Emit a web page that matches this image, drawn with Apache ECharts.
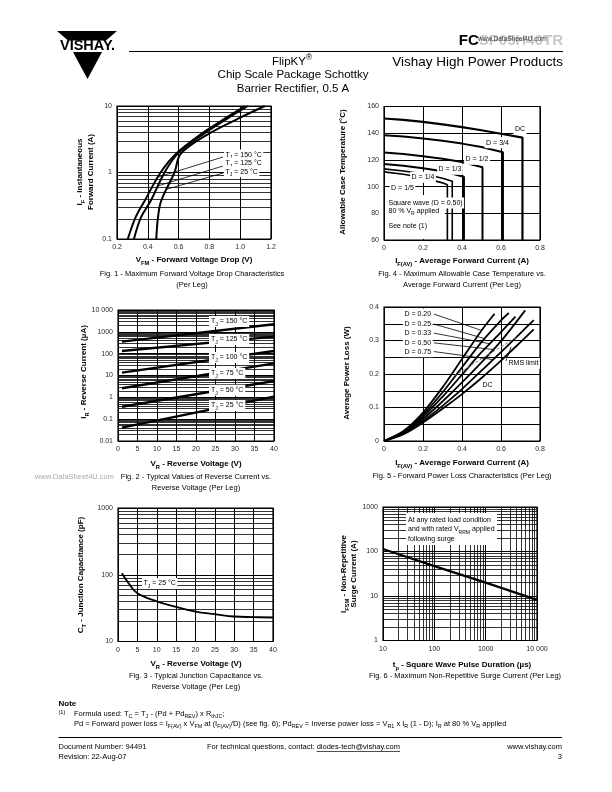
<!DOCTYPE html>
<html><head><meta charset="utf-8">
<script src="https://cdn.jsdelivr.net/npm/echarts@6/dist/echarts.min.js"></script>
<style>html,body{margin:0;padding:0;background:#fff}#c{width:612px;height:792px}</style>
</head><body><div id="c"></div>
<script>
const FF = '"Liberation Sans", Arial, Helvetica, sans-serif';

// ---------------- DATA ----------------
// Fig 1 - forward voltage drop
const fig1Current = [0.1, 0.21, 0.376, 1, 1.92, 3.85, 6.9, 10];
const fig1Vf150 = [0.27, 0.32, 0.38, 0.483, 0.584, 0.75, 0.92, 1.03];
const fig1Vf125 = [0.31, 0.355, 0.419, 0.509, 0.595, 0.765, 0.935, 1.05];
const fig1Vf25  = [0.455, 0.466, 0.487, 0.573, 0.615, 0.798, 1.013, 1.16];
const fig1Labels = ['T_{J} = 150 °C', 'T_{J} = 125 °C', 'T_{J} = 25 °C'];
const fig1LeaderFrom = [[0.888, 1.71], [0.888, 1.25], [0.888, 0.98]];
const fig1LeaderTo   = [[0.465, 0.85], [0.467, 0.63], [0.522, 0.56]];

// Fig 4 - allowable case temperature
const fig4I_dc = [0, 0.1, 0.2, 0.3, 0.4, 0.5, 0.6, 0.71, 0.71];
const fig4T_dc = [151, 150, 148.5, 146.6, 144.5, 142.2, 139.6, 136.7, 60];
const fig4I_34 = [0, 0.1, 0.2, 0.3, 0.4, 0.5, 0.61, 0.61];
const fig4T_34 = [138.5, 137.5, 136.1, 134.4, 132.2, 129.7, 125.7, 60];
const fig4I_12 = [0, 0.1, 0.2, 0.3, 0.4, 0.505, 0.505];
const fig4T_12 = [125.6, 124.4, 122.8, 120.9, 118.4, 114.5, 60];
const fig4I_13 = [0, 0.1, 0.2, 0.3, 0.41, 0.41];
const fig4T_13 = [117, 115.7, 113.8, 111.5, 107.4, 60];
const fig4I_14 = [0, 0.1, 0.2, 0.3, 0.35, 0.35];
const fig4T_14 = [113.3, 111.7, 109.6, 106.3, 104, 60];
const fig4I_15 = [0, 0.1, 0.2, 0.3, 0.325, 0.325];
const fig4T_15 = [111, 109.3, 106.6, 102.8, 101.3, 60];
const fig4Labels = ['DC', 'D = 3/4', 'D = 1/2', 'D = 1/3', 'D = 1/4', 'D = 1/5'];

// Fig 2 - reverse current
const fig2Vr = [1, 40];
const fig2Ir150 = [355, 2240];
const fig2Ir125 = [132, 600];
const fig2Ir100 = [13.5, 132];
const fig2Ir75  = [2.6, 36];
const fig2Ir50  = [0.37, 5.6];
const fig2Ir25  = [0.041, 1.07];
const fig2Labels = ['T_{J} = 150 °C', 'T_{J} = 125 °C', 'T_{J} = 100 °C', 'T_{J} = 75 °C', 'T_{J} = 50 °C', 'T_{J} = 25 °C'];
const fig2YTicks = {'-2': '0.01', '-1': '0.1', '0': '1', '1': '10', '2': '100', '3': '1000', '4': '10 000'};

// Fig 5 - forward power loss
const fig5I_020 = [0, 0.1, 0.2, 0.3, 0.4, 0.5, 0.567];
const fig5P_020 = [0, 0.03, 0.085, 0.16, 0.245, 0.33, 0.38];
const fig5I_025 = [0, 0.1, 0.2, 0.3, 0.4, 0.5, 0.6, 0.64];
const fig5P_025 = [0, 0.028, 0.078, 0.145, 0.22, 0.295, 0.36, 0.382];
const fig5I_033 = [0, 0.1, 0.2, 0.3, 0.4, 0.5, 0.6, 0.674];
const fig5P_033 = [0, 0.026, 0.072, 0.132, 0.198, 0.265, 0.325, 0.371];
const fig5I_050 = [0, 0.1, 0.2, 0.3, 0.4, 0.5, 0.6, 0.724];
const fig5P_050 = [0, 0.024, 0.066, 0.118, 0.175, 0.235, 0.298, 0.39];
const fig5I_075 = [0, 0.1, 0.2, 0.3, 0.4, 0.5, 0.6, 0.7, 0.768];
const fig5P_075 = [0, 0.022, 0.06, 0.105, 0.155, 0.21, 0.265, 0.322, 0.361];
const fig5I_dc  = [0, 0.1, 0.2, 0.3, 0.4, 0.5, 0.6, 0.7, 0.768];
const fig5P_dc  = [0, 0.02, 0.055, 0.096, 0.14, 0.188, 0.24, 0.295, 0.333];
const fig5RmsI = [0.36, 0.68];
const fig5RmsP = [0.195, 0.31];
const fig5Labels = ['D = 0.20', 'D = 0.25', 'D = 0.33', 'D = 0.50', 'D = 0.75'];
const fig5LeaderFrom = [[0.256, 0.379], [0.256, 0.349], [0.256, 0.322], [0.256, 0.293], [0.256, 0.267]];
const fig5LeaderTo   = [[0.50, 0.33], [0.52, 0.305], [0.545, 0.29], [0.56, 0.273], [0.56, 0.243]];

// Fig 3 - junction capacitance
const fig3Vr = [1, 3, 5, 10, 15, 20, 25, 30, 35, 40];
const fig3Ct = [105, 71, 53, 40, 33, 28, 25.7, 23.7, 23.2, 22.9];

// Fig 6 - surge current
const fig6Tp = [10, 100, 1000, 10000];
const fig6Ifsm = [114, 47, 20, 8.2];
const fig6XTicks = {'1': '10', '2': '100', '3': '1000', '4': '10 000'};
const fig6YTicks = {'0': '1', '1': '10', '2': '100', '3': '1000'};

// ---------------- HELPERS ----------------
function pairs(xs, ys) { return xs.map((x, i) => [x, ys[i]]); }
function logMinors(lo, hi) {
  const out = [];
  for (let e = lo; e < hi; e++) for (let k = 2; k <= 9; k++) out.push(+(k * Math.pow(10, e)).toPrecision(3));
  return out;
}
function richText(markup, size, bold, color) {
  const w = bold ? 'bold' : 'normal';
  const base = {fontSize: size, fontWeight: w, fontFamily: FF, fill: color || '#000'};
  const rich = {
    n: Object.assign({}, base, {lineHeight: Math.round(size * 1.5), verticalAlign: 'middle'}),
    s: Object.assign({}, base, {fontSize: size * 0.72, lineHeight: size * 0.8, verticalAlign: 'bottom'}),
    p: Object.assign({}, base, {fontSize: size * 0.72, lineHeight: size * 0.8, verticalAlign: 'top'}),
    g: Object.assign({}, base, {fill: '#c8c8c8', lineHeight: Math.round(size * 1.5), verticalAlign: 'middle'})
  };
  let text = '', last = 0, m;
  const re = /([_^~])\{([^}]*)\}/g;
  while ((m = re.exec(markup))) {
    if (m.index > last) text += '{n|' + markup.slice(last, m.index) + '}';
    text += '{' + (m[1] === '_' ? 's' : m[1] === '^' ? 'p' : 'g') + '|' + m[2] + '}';
    last = re.lastIndex;
  }
  if (last < markup.length) text += '{n|' + markup.slice(last) + '}';
  return {text, rich};
}
function T(x, y, markup, o) {
  o = o || {};
  const rt = richText(markup, o.size || 7, !!o.bold, o.color);
  const style = {text: rt.text, rich: rt.rich, align: o.align || 'left', verticalAlign: 'middle'};
  if (o.bg) { style.backgroundColor = '#fff'; style.padding = o.pad || [0, 1.5]; }
  return {type: 'text', x, y, rotation: o.rot || 0, z: o.z || 10, silent: true, style};
}
const BLACK = '#000';
function grid(left, top, width, height) {
  return {left, top, width, height, show: true, borderColor: BLACK, borderWidth: 1.2, backgroundColor: 'rgba(0,0,0,0)', containLabel: false};
}
const lbl = {fontSize: 7, color: '#2a2a2a', fontFamily: FF};
function axis(gi, type, o) {
  return Object.assign({
    gridIndex: gi, type,
    axisLine: {show: false}, axisTick: {show: false},
    splitLine: {show: true, lineStyle: {color: BLACK, width: 1}},
    minorSplitLine: {show: false}
  }, o, {axisLabel: Object.assign({}, lbl, {margin: 5, showMinLabel: true, showMaxLabel: true, hideOverlap: false}, (o && o.axisLabel) || {})});
}
function curve(gi, xs, ys, w, extra) {
  return Object.assign({
    type: 'line', xAxisIndex: gi, yAxisIndex: gi, data: pairs(xs, ys),
    symbol: 'none', showSymbol: false, silent: true, animation: false, z: 3,
    lineStyle: {color: BLACK, width: w || 2}, emphasis: {disabled: true}
  }, extra || {});
}
function gridLines(gi, anchor, xs, ys) {
  return {
    type: 'line', xAxisIndex: gi, yAxisIndex: gi, data: [anchor], symbol: 'none', showSymbol: false,
    lineStyle: {opacity: 0}, silent: true, animation: false, z: 1,
    markLine: {
      z: 1, silent: true, animation: false, symbol: ['none', 'none'], label: {show: false},
      emphasis: {disabled: true},
      lineStyle: {color: BLACK, width: 0.8, type: 'solid'},
      data: xs.map(v => ({xAxis: v})).concat(ys.map(v => ({yAxis: v})))
    }
  };
}
function leader(gi, from, to, dashed) {
  return curve(gi, [from[0], to[0]], [from[1], to[1]], 0.8, {z: 4, lineStyle: {color: dashed ? '#777' : BLACK, width: dashed ? 1 : 0.8, type: dashed ? [3, 2] : 'solid'}});
}
const logFmt = map => (v => { const p = Math.round(Math.log10(v)); return map[String(p)] !== undefined ? map[String(p)] : ''; });
const decFmt = v => v === 0 ? '0' : String(+v.toFixed(1));

// ---------------- GRIDS ----------------
// 0: Fig1, 1: Fig4, 2: Fig2, 3: Fig5, 4: Fig3, 5: Fig6
const grids = [
  grid(117, 106, 154, 133),
  grid(384, 106.5, 156, 133.5),
  grid(118, 310, 156, 131),
  grid(384, 307, 156, 134),
  grid(118, 508, 155, 133.5),
  grid(383, 507, 154, 133.5)
];
const xAxes = [
  axis(0, 'value', {min: 0.2, max: 1.2, interval: 0.2, axisLabel: {formatter: v => v.toFixed(1)}}),
  axis(1, 'value', {min: 0, max: 0.8, interval: 0.2, axisLabel: {formatter: decFmt}}),
  axis(2, 'value', {min: 0, max: 40, interval: 5}),
  axis(3, 'value', {min: 0, max: 0.8, interval: 0.2, axisLabel: {formatter: decFmt}}),
  axis(4, 'value', {min: 0, max: 40, interval: 5}),
  axis(5, 'log', {min: 10, max: 10000, logBase: 10, axisLabel: {formatter: logFmt(fig6XTicks)}})
];
const yAxes = [
  axis(0, 'log', {min: 0.1, max: 10, logBase: 10, axisLabel: {formatter: logFmt({'-1': '0.1', '0': '1', '1': '10'})}}),
  axis(1, 'value', {min: 60, max: 160, interval: 20}),
  axis(2, 'log', {min: 0.01, max: 10000, logBase: 10, axisLabel: {formatter: logFmt(fig2YTicks)}}),
  axis(3, 'value', {min: 0, max: 0.4, interval: 0.05, axisLabel: {formatter: v => { const k = Math.round(v * 100); return k % 10 === 0 ? (k === 0 ? '0' : String(k / 100)) : ''; }}}),
  axis(4, 'log', {min: 10, max: 1000, logBase: 10, axisLabel: {formatter: logFmt({'1': '10', '2': '100', '3': '1000'})}}),
  axis(5, 'log', {min: 1, max: 1000, logBase: 10, axisLabel: {formatter: logFmt(fig6YTicks)}})
];

// ---------------- SERIES ----------------
const series = [
  gridLines(0, [0.5, 1], [], logMinors(-1, 1)),
  curve(0, fig1Vf150, fig1Current, 2, {smooth: 0.35}),
  curve(0, fig1Vf125, fig1Current, 2, {smooth: 0.35}),
  curve(0, fig1Vf25, fig1Current, 2, {smooth: 0.35}),
  ...fig1LeaderFrom.map((f, i) => leader(0, f, fig1LeaderTo[i])),

  curve(1, fig4I_dc, fig4T_dc, 2.2),
  curve(1, fig4I_34, fig4T_34, 2),
  curve(1, fig4I_12, fig4T_12, 2),
  curve(1, fig4I_13, fig4T_13, 2),
  curve(1, fig4I_14, fig4T_14, 1.6),
  curve(1, fig4I_15, fig4T_15, 1.6),

  gridLines(2, [20, 1], [], logMinors(-2, 4)),
  curve(2, fig2Vr, fig2Ir150, 2.4),
  curve(2, fig2Vr, fig2Ir125, 2.4),
  curve(2, fig2Vr, fig2Ir100, 2.4),
  curve(2, fig2Vr, fig2Ir75, 2.4),
  curve(2, fig2Vr, fig2Ir50, 2.4),
  curve(2, fig2Vr, fig2Ir25, 2.4),

  curve(3, fig5I_020, fig5P_020, 1.8, {smooth: 0.3}),
  curve(3, fig5I_025, fig5P_025, 1.8, {smooth: 0.3}),
  curve(3, fig5I_033, fig5P_033, 1.8, {smooth: 0.3}),
  curve(3, fig5I_050, fig5P_050, 1.8, {smooth: 0.3}),
  curve(3, fig5I_075, fig5P_075, 1.8, {smooth: 0.3}),
  curve(3, fig5I_dc, fig5P_dc, 1.8, {smooth: 0.3}),
  leader(3, [fig5RmsI[0], fig5RmsP[0]], [fig5RmsI[1], fig5RmsP[1]], true),
  ...fig5LeaderFrom.map((f, i) => leader(3, f, fig5LeaderTo[i])),
  leader(3, [0.626, 0.239], [0.652, 0.281]),

  gridLines(4, [20, 20], [], logMinors(1, 3)),
  curve(4, fig3Vr, fig3Ct, 1.8, {smooth: 0.4}),

  gridLines(5, [20, 2], logMinors(1, 4), logMinors(0, 3)),
  curve(5, fig6Tp, fig6Ifsm, 2.2)
];

// ---------------- TEXT / GRAPHICS ----------------
const g = [];
// header
g.push({type: 'polygon', shape: {points: [[57, 31], [117, 31], [106, 40.5], [68, 40.5]]}, style: {fill: BLACK}, silent: true});
g.push({type: 'polygon', shape: {points: [[73, 52], [102, 52], [87.5, 79]]}, style: {fill: BLACK}, silent: true});
g.push(T(87.5, 46.3, 'VISHAY.', {size: 14.5, bold: true, align: 'center'}));
g.push(T(563, 41, 'FC~{SP05H40TR}', {size: 15, bold: true, align: 'right'}));
g.push(T(478, 39, 'www.DataSheet4U.com', {size: 6.5, bold: false, color: '#333'}));
g.push({type: 'line', shape: {x1: 129, y1: 51.5, x2: 563, y2: 51.5}, style: {stroke: BLACK, lineWidth: 1}, silent: true});
g.push(T(292, 62, 'FlipKY^{®}', {size: 11.5, align: 'center'}));
g.push(T(563, 62.5, 'Vishay High Power Products', {size: 13.5, align: 'right'}));
g.push(T(293, 75, 'Chip Scale Package Schottky', {size: 11.5, align: 'center'}));
g.push(T(293, 88.5, 'Barrier Rectifier, 0.5 A', {size: 11.5, align: 'center'}));

// Fig 1 text
g.push(T(80, 172, 'I_{F} - Instantaneous', {size: 8, bold: true, align: 'center', rot: Math.PI / 2}));
g.push(T(91, 172, 'Forward Current (A)', {size: 8, bold: true, align: 'center', rot: Math.PI / 2}));
g.push(T(194, 260, 'V_{FM} - Forward Voltage Drop (V)', {size: 8, bold: true, align: 'center'}));
g.push(T(192, 274, 'Fig. 1 - Maximum Forward Voltage Drop Characteristics', {size: 7.5, align: 'center'}));
g.push(T(192, 285, '(Per Leg)', {size: 7.5, align: 'center'}));
[155, 163.3, 171.7].forEach((y, i) => g.push(T(224, y, fig1Labels[i], {size: 7, bg: true})));

// Fig 4 text
g.push(T(343, 172, 'Allowable Case Temperature (°C)', {size: 8, bold: true, align: 'center', rot: Math.PI / 2}));
g.push(T(462, 261, 'I_{F(AV)} - Average Forward Current (A)', {size: 8, bold: true, align: 'center'}));
g.push(T(462, 274, 'Fig. 4 - Maximum Allowable Case Temperature vs.', {size: 7.5, align: 'center'}));
g.push(T(462, 285, 'Average Forward Current (Per Leg)', {size: 7.5, align: 'center'}));
[[520, 129.5], [497.5, 142.7], [477, 159.3], [450, 169.3], [423, 177.3], [402.5, 188.3]].forEach((p, i) =>
  g.push(T(p[0], p[1], fig4Labels[i], {size: 7, align: 'center', bg: true})));
g.push({type: 'rect', shape: {x: 385, y: 195, width: 60, height: 44}, style: {fill: '#fff'}, z: 2, silent: true});
g.push(T(387, 203, 'Square wave (D = 0.50)', {size: 7, bg: true}));
g.push(T(387, 211, '80 % V_{R} applied', {size: 7, bg: true}));
g.push(T(387, 226, 'See note (1)', {size: 7, bg: true}));

// Fig 2 text
g.push(T(84, 372, 'I_{R} - Reverse Current (µA)', {size: 8, bold: true, align: 'center', rot: Math.PI / 2}));
g.push(T(196, 464, 'V_{R} - Reverse Voltage (V)', {size: 8, bold: true, align: 'center'}));
g.push(T(196, 477, 'Fig. 2 - Typical Values of Reverse Current vs.', {size: 7.5, align: 'center'}));
g.push(T(196, 488, 'Reverse Voltage (Per Leg)', {size: 7.5, align: 'center'}));
g.push(T(114, 477, 'www.DataSheet4U.com', {size: 7.5, align: 'right', color: '#aaa'}));
[321.5, 339.5, 357.5, 373.5, 390.3, 405.5].forEach((y, i) => g.push(T(209, y, fig2Labels[i], {size: 7, bg: true, pad: [0, 2]})));

// Fig 5 text
g.push(T(347, 373, 'Average Power Loss (W)', {size: 8, bold: true, align: 'center', rot: Math.PI / 2}));
g.push(T(462, 463, 'I_{F(AV)} - Average Forward Current (A)', {size: 8, bold: true, align: 'center'}));
g.push(T(462, 476, 'Fig. 5 - Forward Power Loss Characteristics (Per Leg)', {size: 7.5, align: 'center'}));
[314, 324, 333.3, 342.7, 351.7].forEach((y, i) => g.push(T(403, y, fig5Labels[i], {size: 7, bg: true})));
g.push(T(507, 363.5, 'RMS limit', {size: 7, bg: true}));
g.push(T(481, 385, 'DC', {size: 7, bg: true}));

// Fig 3 text
g.push(T(81, 575, 'C_{T} - Junction Capacitance (pF)', {size: 8, bold: true, align: 'center', rot: Math.PI / 2}));
g.push(T(196, 664, 'V_{R} - Reverse Voltage (V)', {size: 8, bold: true, align: 'center'}));
g.push(T(196, 676, 'Fig. 3 - Typical Junction Capacitance vs.', {size: 7.5, align: 'center'}));
g.push(T(196, 687, 'Reverse Voltage (Per Leg)', {size: 7.5, align: 'center'}));
g.push(T(142, 583.5, 'T_{J} = 25 °C', {size: 7, bg: true}));

// Fig 6 text
g.push(T(344, 574, 'I_{FSM} - Non-Repetitive', {size: 8, bold: true, align: 'center', rot: Math.PI / 2}));
g.push(T(354, 574, 'Surge Current (A)', {size: 8, bold: true, align: 'center', rot: Math.PI / 2}));
g.push(T(462, 665, 't_{p} - Square Wave Pulse Duration (µs)', {size: 8, bold: true, align: 'center'}));
g.push(T(465, 676, 'Fig. 6 - Maximum Non-Repetitive Surge Current (Per Leg)', {size: 7.5, align: 'center'}));
g.push({type: 'rect', shape: {x: 406, y: 513, width: 91, height: 32}, style: {fill: '#fff'}, z: 2, silent: true});
g.push(T(408, 520, 'At any rated load condition', {size: 7}));
g.push(T(408, 529.5, 'and with rated V_{RRM} applied', {size: 7}));
g.push(T(408, 539, 'following surge', {size: 7}));

// footer
g.push(T(58.5, 704, 'Note', {size: 8, bold: true}));
g.push(T(58.5, 712, '(1)', {size: 5.5}));
g.push(T(74, 714, 'Formula used: T_{C} = T_{J} - (Pd + Pd_{REV}) x R_{thJC};', {size: 7.5}));
g.push(T(74, 723.5, 'Pd = Forward power loss = I_{F(AV)} x V_{FM} at (I_{F(AV)}/D) (see fig. 6); Pd_{REV} = Inverse power loss = V_{R1} x I_{R} (1 - D); I_{R} at 80 % V_{R} applied', {size: 7.5}));
g.push({type: 'line', shape: {x1: 58.5, y1: 737.5, x2: 562, y2: 737.5}, style: {stroke: BLACK, lineWidth: 1}, silent: true});
g.push(T(58.5, 747, 'Document Number: 94491', {size: 7.5}));
g.push(T(58.5, 757, 'Revision: 22-Aug-07', {size: 7.5}));
const ctx = document.createElement('canvas').getContext('2d');
ctx.font = '7.5px ' + FF;
const pre = 'For technical questions, contact: ';
const preW = ctx.measureText(pre).width, mailW = ctx.measureText('diodes-tech@vishay.com').width;
g.push(T(207, 747, pre + 'diodes-tech@vishay.com', {size: 7.5}));
g.push({type: 'line', shape: {x1: 207 + preW, y1: 751.5, x2: 207 + preW + mailW, y2: 751.5}, style: {stroke: BLACK, lineWidth: 0.7}, silent: true});
g.push(T(562, 747, 'www.vishay.com', {size: 7.5, align: 'right'}));
g.push(T(562, 757, '3', {size: 7.5, align: 'right'}));

const chart = echarts.init(document.getElementById('c'), null, {renderer: 'canvas'});
chart.setOption({
  backgroundColor: '#fff',
  animation: false,
  textStyle: {fontFamily: FF},
  grid: grids, xAxis: xAxes, yAxis: yAxes,
  series,
  graphic: {elements: g}
});
</script>
</body></html>
